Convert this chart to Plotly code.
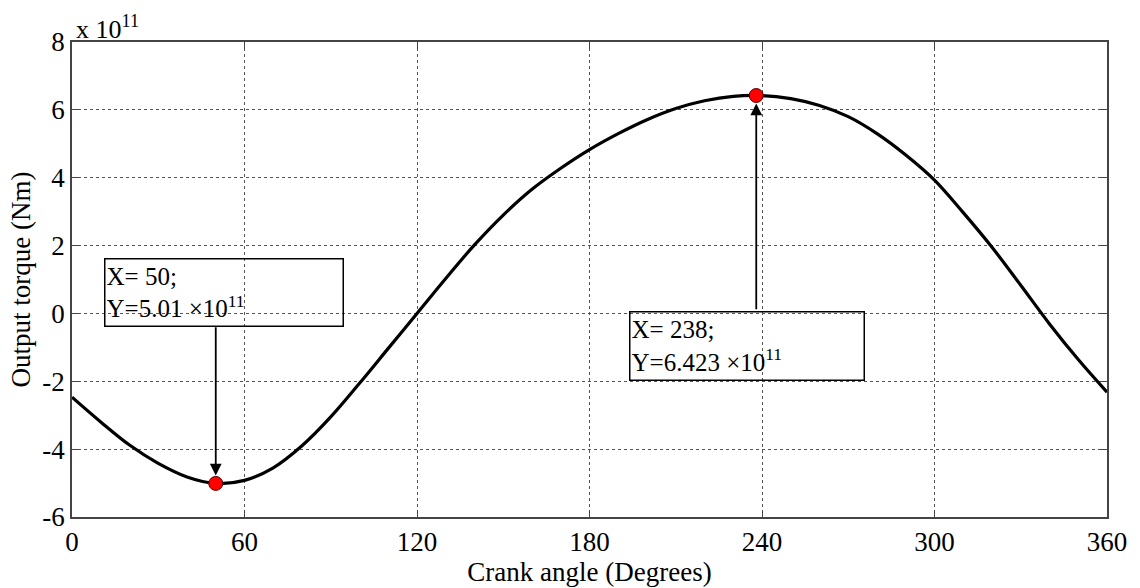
import plotly.graph_objects as go

# Output torque over one crank revolution, in units of 1e11 N·m
crank_angle = [0, 10, 20, 30, 40, 50, 60, 70, 80, 90, 100, 110, 120, 130, 140, 150,
               160, 170, 180, 190, 200, 210, 220, 230, 240, 250, 260, 270, 280, 290,
               300, 310, 320, 330, 340, 350, 360]
torque = [-2.47, -3.20, -3.88, -4.42, -4.82, -5.01, -4.92, -4.55, -3.90, -3.05, -2.06,
          -1.03, 0.00, 1.03, 2.02, 2.90, 3.66, 4.28, 4.83, 5.30, 5.71, 6.04, 6.27, 6.40,
          6.42, 6.33, 6.13, 5.80, 5.30, 4.67, 3.93, 2.97, 1.95, 0.83, -0.31, -1.36, -2.32]

# Marked data tips
tip_x = [50, 238]
tip_y = [-5.01, 6.423]
tip_text = ["X= 50;<br>Y=5.01 ×10<sup>11</sup>", "X= 238;<br>Y=6.423 ×10<sup>11</sup>"]
# data-tip box extents (x0, x1, y_top, y_bottom) in axis units
tip_box = [(11.1, 95.0, 1.63, -0.36), (193.7, 276.2, 0.08, -1.94)]

x_ticks = [0, 60, 120, 180, 240, 300, 360]
y_ticks = [-6, -4, -2, 0, 2, 4, 6, 8]

FONT = "Liberation Serif"
PX_PER_DEG = 1035 / 360
PX_PER_UNIT = 479 / 14

fig = go.Figure()
fig.add_trace(go.Scatter(
    x=crank_angle, y=torque, mode="lines",
    line=dict(color="black", width=3.2, shape="spline", smoothing=1.0),
    showlegend=False, hoverinfo="skip"))
fig.add_trace(go.Scatter(
    x=tip_x, y=tip_y, mode="markers",
    marker=dict(color="#ff0000", size=14, line=dict(color="#550000", width=1)),
    showlegend=False))

annotations = []
for (tx, ty, txt, (bx0, bx1, byt, byb)) in zip(tip_x, tip_y, tip_text, tip_box):
    # arrow from the box edge to the data point
    tail_y = byb if ty < byb else byt
    annotations.append(dict(
        x=tx, y=ty, ax=tx, ay=tail_y, xref="x", yref="y", axref="x", ayref="y",
        text="", showarrow=True, arrowhead=2, arrowsize=1.3, arrowwidth=1.8,
        arrowcolor="black", standoff=8))
    annotations.append(dict(
        x=bx0, y=byt, xref="x", yref="y", xanchor="left", yanchor="top",
        text=txt, showarrow=False, align="left", valign="middle",
        width=(bx1 - bx0) * PX_PER_DEG - 6, height=(byt - byb) * PX_PER_UNIT - 4,
        bordercolor="black", borderwidth=1.5, borderpad=1, bgcolor="rgba(0,0,0,0)",
        font=dict(family=FONT, size=25, color="black")))

annotations.append(dict(
    x=0, y=1, xref="paper", yref="paper", xanchor="left", yanchor="bottom",
    xshift=2, yshift=-4,
    text="x 10<sup>11</sup>", showarrow=False,
    font=dict(family=FONT, size=26, color="black")))

axis_common = dict(
    showline=True, linecolor="#444", linewidth=1.5, mirror="ticks",
    ticks="inside", ticklen=7, tickcolor="#444", tickwidth=1,
    showgrid=True, gridcolor="#555", griddash="dot", gridwidth=1,
    zeroline=False, tickfont=dict(family=FONT, size=27, color="black"))

fig.update_xaxes(range=[0, 360], tickvals=x_ticks, ticktext=[str(v) for v in x_ticks],
                 title=dict(text="Crank angle (Degrees)", standoff=0,
                            font=dict(family=FONT, size=27, color="black")),
                 **axis_common)
fig.update_yaxes(range=[-6, 8], tickvals=y_ticks, ticktext=[str(v) for v in y_ticks],
                 ticklabelstandoff=0,
                 title=dict(text="Output torque (Nm)", standoff=4,
                            font=dict(family=FONT, size=27, color="black")),
                 **axis_common)

fig.update_layout(
    width=1140, height=588,
    margin=dict(l=72, r=33, t=42, b=67),
    paper_bgcolor="white", plot_bgcolor="white",
    annotations=annotations,
)

fig.write_html("out.html")
